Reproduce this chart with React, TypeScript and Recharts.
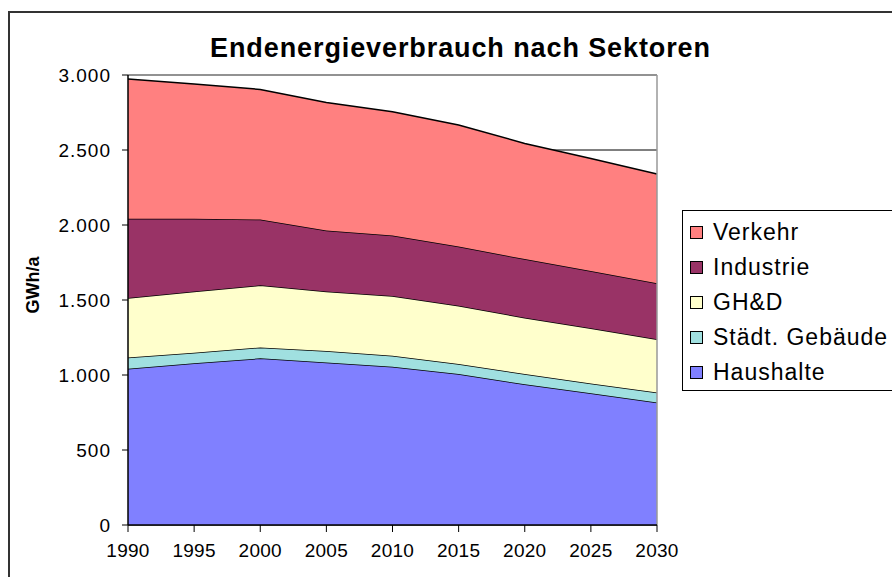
import React from 'react';
import { AreaChart, Area, XAxis, YAxis, CartesianGrid, Legend, ReferenceLine, Label } from 'recharts';

const years = [1990, 1995, 2000, 2005, 2010, 2015, 2020, 2025, 2030];
const haushalte = [1042, 1078, 1111, 1084, 1055, 1007, 938, 878, 816];
const staedtGebaeude = [74, 71, 73, 76, 74, 66, 69, 66, 68];
const ghd = [397, 407, 414, 396, 398, 389, 375, 367, 354];
const industrie = [529, 486, 438, 408, 403, 394, 391, 382, 373];
const verkehr = [931, 898, 868, 852, 825, 811, 771, 751, 729];
const yTicks = [0, 500, 1000, 1500, 2000, 2500, 3000];

const SERIES = [
  { key: 'haushalte', name: 'Haushalte', color: '#8080FF' },
  { key: 'staedt', name: 'Städt. Gebäude', color: '#A0E0E0' },
  { key: 'ghd', name: 'GH&D', color: '#FFFFCC' },
  { key: 'industrie', name: 'Industrie', color: '#993366' },
  { key: 'verkehr', name: 'Verkehr', color: '#FF8080' },
];

const data = years.map((year, i) => ({
  year,
  haushalte: haushalte[i],
  staedt: staedtGebaeude[i],
  ghd: ghd[i],
  industrie: industrie[i],
  verkehr: verkehr[i],
}));

const FONT = '"Liberation Sans", Arial, sans-serif';

const fmt = (v: number) => String(v).replace(/\B(?=(\d{3})+(?!\d))/g, '.');

const LegendBox = () => (
  <div
    style={{
      border: '1px solid #000',
      background: '#fff',
      padding: '4px 40px 0px 7px',
      fontFamily: FONT,
      fontSize: 23,
      letterSpacing: 1,
      color: '#000',
      width: 200,
    }}
  >
    {[...SERIES].reverse().map((s) => (
      <div key={s.key} style={{ display: 'flex', alignItems: 'center', height: 35 }}>
        <span
          style={{
            display: 'inline-block',
            width: 11,
            height: 11,
            background: s.color,
            border: '1px solid #000',
            marginRight: 10,
          }}
        />
        <span style={{ whiteSpace: 'nowrap' }}>{s.name}</span>
      </div>
    ))}
  </div>
);

// rotated axis title, a bit above the plot centre like the original
const YTitle = (props: any) => {
  const vb = props.viewBox || {};
  const cy = (vb.y || 0) + (vb.height || 0) / 2 - 15;
  return (
    <text
      x={39}
      y={cy}
      transform={`rotate(-90, 39, ${cy})`}
      textAnchor="middle"
      style={{ fontFamily: FONT, fontWeight: 'bold', fontSize: 18, fill: '#000' }}
    >
      GWh/a
    </text>
  );
};

export default function App() {
  return (
    <div style={{ position: 'absolute', left: 0, top: 0, width: 892, height: 577, overflow: 'hidden', background: '#fff' }}>
      <div
        style={{
          position: 'absolute',
          left: 8,
          top: 11,
          width: 900,
          height: 600,
          borderLeft: '2px solid #333',
          borderTop: '2px solid #333',
        }}
      />
      <div
        style={{
          position: 'absolute',
          left: 0,
          top: 33,
          width: 921,
          textAlign: 'center',
          fontFamily: FONT,
          fontWeight: 'bold',
          fontSize: 27,
          letterSpacing: 0.9,
        }}
      >
        Endenergieverbrauch nach Sektoren
      </div>
      <div style={{ position: 'absolute', left: 0, top: 0 }}>
        <AreaChart width={892} height={577} data={data} margin={{ top: 75, right: 235, bottom: 22, left: 68 }}>
          <CartesianGrid horizontal vertical={false} stroke="#000" strokeWidth={1} />
          <XAxis
            dataKey="year"
            type="number"
            domain={[1990, 2030]}
            ticks={years}
            interval={0}
            height={30}
            tickSize={7}
            tickLine={{ stroke: '#000' }}
            axisLine={{ stroke: '#000', strokeWidth: 1.5 }}
            tick={{ fill: '#000', fontSize: 19, fontFamily: FONT, letterSpacing: 0.3, dy: 10 }}
          />
          <YAxis
            type="number"
            domain={[0, 3000]}
            ticks={yTicks}
            interval={0}
            width={60}
            tickSize={6}
            tickFormatter={fmt}
            tickLine={{ stroke: '#000' }}
            axisLine={{ stroke: '#000', strokeWidth: 1.5 }}
            tick={{ fill: '#000', fontSize: 19, fontFamily: FONT, letterSpacing: 1, dx: -9 }}
          >
            <Label content={YTitle} />
          </YAxis>
          {SERIES.map((s) => (
            <Area
              key={s.key}
              type="linear"
              dataKey={s.key}
              name={s.name}
              stackId="1"
              fill={s.color}
              fillOpacity={1}
              stroke="#000"
              strokeWidth={1.5}
              isAnimationActive={false}
            />
          ))}
          <ReferenceLine y={3000} stroke="#999" strokeWidth={1.5} />
          <ReferenceLine x={2030} stroke="#999" strokeWidth={1.5} />
          <Legend
            layout="vertical"
            align="center"
            verticalAlign="middle"
            content={() => <LegendBox />}
            wrapperStyle={{ position: 'absolute', left: 682, top: 210, width: 260 }}
          />
        </AreaChart>
      </div>
    </div>
  );
}
